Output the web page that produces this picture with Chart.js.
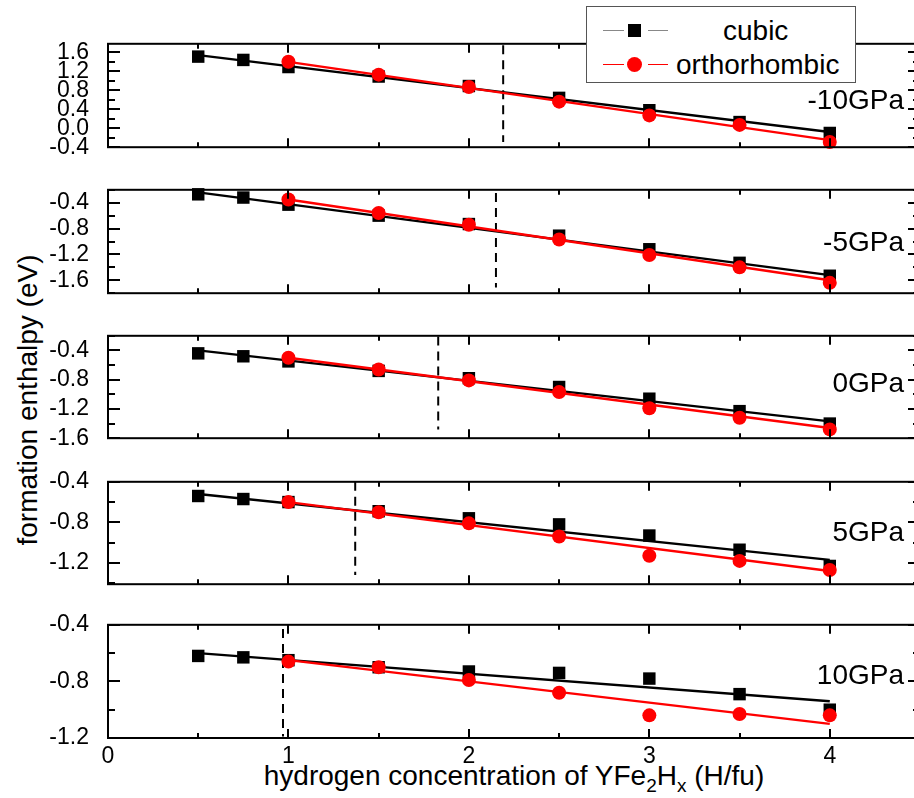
<!DOCTYPE html>
<html>
<head>
<meta charset="utf-8">
<title>Formation enthalpy of YFe2Hx</title>
<script src="https://cdn.jsdelivr.net/npm/chart.js@4.4.1/dist/chart.umd.min.js"></script>
<style>
  html, body { margin: 0; padding: 0; overflow: hidden; background: #fff; }
  body { width: 914px; height: 798px; position: relative; font-family: 'Liberation Sans', Arial, sans-serif; color: #000; }
  canvas.panel { position: absolute; left: 0; }
  .plabel { position: absolute; right: 10px; font-size: 28px; line-height: 1; transform: translateY(-50%); white-space: nowrap; }
  #ytitle { position: absolute; left: 28px; top: 400px; font-size: 28px; white-space: nowrap; transform: translate(-50%, -50%) rotate(-90deg); }
  #xtitle { position: absolute; left: 514px; top: 776px; font-size: 28px; white-space: nowrap; transform: translate(-50%, -50%); }
  #xtitle sub { font-size: 19px; vertical-align: -7px; line-height: 0; }
  #legend { position: absolute; left: 586px; top: 6px; width: 268px; height: 75px; border: 1px solid #555; background: #fff; z-index: 5; }
  #legend .seg { position: absolute; height: 1px; }
  #legend .sq { position: absolute; width: 13px; height: 13px; background: #000; }
  #legend .dot { position: absolute; width: 15px; height: 15px; border-radius: 50%; background: #f00; }
  #legend .txt { position: absolute; font-size: 28px; line-height: 1; transform: translateY(-50%); white-space: nowrap; }
</style>
</head>
<body>

<div id="ytitle">formation enthalpy (eV)</div>
<div id="xtitle">hydrogen concentration of YFe<sub>2</sub>H<sub>x</sub> (H/fu)</div>

<div id="legend">
  <div class="seg" style="left:16px; width:21px; top:23px; background:#888"></div>
  <div class="seg" style="left:61px; width:20px; top:23px; background:#888"></div>
  <div class="sq" style="left:41px; top:17px"></div>
  <div class="txt" style="left:136px; top:24px">cubic</div>
  <div class="seg" style="left:16px; width:21px; top:57px; background:#f00"></div>
  <div class="seg" style="left:61px; width:20px; top:57px; background:#f00"></div>
  <div class="dot" style="left:40px; top:50px"></div>
  <div class="txt" style="left:89px; top:58px">orthorhombic</div>
</div>

<script>
// pressure of each panel, top to bottom
const pressureLabels = ['-10GPa', '-5GPa', '0GPa', '5GPa', '10GPa'];

// hydrogen content x in YFe2Hx (H/fu)
const cubicX = [0.5, 0.75, 1, 1.5, 2, 2.5, 3, 3.5, 4];
const orthoX = [1, 1.5, 2, 2.5, 3, 3.5, 4];

// formation enthalpy (eV), one row per pressure
const cubicE = [
  [1.51, 1.44, 1.29, 1.09, 0.89, 0.64, 0.38, 0.13, -0.10],
  [-0.27, -0.32, -0.43, -0.60, -0.73, -0.91, -1.12, -1.33, -1.53],
  [-0.44, -0.48, -0.55, -0.68, -0.78, -0.90, -1.06, -1.23, -1.40],
  [-0.54, -0.57, -0.60, -0.69, -0.76, -0.82, -0.93, -1.07, -1.23],
  [-0.62, -0.63, -0.65, -0.70, -0.73, -0.74, -0.78, -0.89, -1.00]
];
const orthoE = [
  [1.40, 1.13, 0.87, 0.56, 0.27, 0.07, -0.29],
  [-0.35, -0.56, -0.74, -0.97, -1.21, -1.40, -1.64],
  [-0.50, -0.66, -0.81, -0.97, -1.19, -1.32, -1.48],
  [-0.60, -0.70, -0.81, -0.94, -1.13, -1.18, -1.27],
  [-0.66, -0.70, -0.79, -0.88, -1.04, -1.03, -1.04]
];

// linear fits, given by their end points
const cubicFitX = [0.5, 4];
const orthoFitX = [1, 4];
const cubicFit = [[1.54, -0.08], [-0.24, -1.52], [-0.40, -1.37], [-0.52, -1.17], [-0.60, -0.94]];
const orthoFit = [[1.40, -0.25], [-0.35, -1.60], [-0.50, -1.46], [-0.60, -1.28], [-0.65, -1.10]];

// cubic -> orthorhombic crossover (dashed lines)
const transitionX = [2.19, 2.15, 1.83, 1.37, 0.97];
const transitionY = [[1.75, -0.29], [-0.25, -1.71], [-0.21, -1.48], [-0.40, -1.32], [-0.43, -1.19]];

// y range of each panel
const yMin = [-0.4, -1.8, -1.6, -1.41, -1.2];
const yMax = [1.78, -0.2, -0.2, -0.4, -0.4];

Chart.defaults.font.family = "'Liberation Sans', Arial, sans-serif";
Chart.defaults.color = '#000';

const onStep = (v, step) => Math.abs(v / step - Math.round(v / step)) < 1e-6;

// every 0.2 inside the range, labelled at multiples of 0.4
function yTickValues(min, max) {
  const out = [];
  for (let k = Math.ceil(min / 0.2 - 1e-6); k <= Math.floor(max / 0.2 + 1e-6); k++) {
    out.push({ value: Math.round(k * 2) / 10 });
  }
  return out;
}

// box around each panel plus inward tick marks on all four sides
const frameTicks = {
  id: 'frameTicks',
  afterDatasetsDraw(chart) {
    const { ctx, chartArea: a, scales: { x, y } } = chart;
    ctx.save();
    ctx.strokeStyle = '#000';
    ctx.lineWidth = 2;
    ctx.strokeRect(a.left, a.top, a.right - a.left, a.bottom - a.top);
    ctx.beginPath();
    y.ticks.forEach(t => {
      if (!onStep(t.value, 0.2)) return;
      const len = onStep(t.value, 0.4) ? 12 : 7;
      const py = Math.round(y.getPixelForValue(t.value));
      ctx.moveTo(a.left, py); ctx.lineTo(a.left + len, py);
      ctx.moveTo(a.right, py); ctx.lineTo(a.right - len, py);
    });
    x.ticks.forEach(t => {
      if (!onStep(t.value, 0.5)) return;
      const len = onStep(t.value, 1) ? 9 : 5;
      const px = Math.round(x.getPixelForValue(t.value));
      ctx.moveTo(px, a.bottom); ctx.lineTo(px, a.bottom - len);
      ctx.moveTo(px, a.top); ctx.lineTo(px, a.top + len);
    });
    ctx.stroke();
    ctx.restore();
  }
};

// chart-area top/bottom of each panel on the page
const areaTop = [35, 181, 327, 473, 616];
const areaBottom = [156, 302, 447, 593, 738];

function makePanel(i) {
  const last = i === pressureLabels.length - 1;
  const pad = 16;
  const xAxisH = last ? 60 : 0;
  const top = areaTop[i] - pad;
  const height = last ? 798 - top : (areaBottom[i] - areaTop[i]) + 2 * pad;

  const canvas = document.createElement('canvas');
  canvas.className = 'panel';
  canvas.width = 930;
  canvas.height = height;
  canvas.style.top = top + 'px';
  document.body.appendChild(canvas);

  const lbl = document.createElement('div');
  lbl.className = 'plabel';
  lbl.textContent = pressureLabels[i];
  document.body.appendChild(lbl);

  new Chart(canvas, {
    type: 'scatter',
    data: {
      datasets: [
        {
          label: 'orthorhombic',
          data: orthoX.map((x, k) => ({ x, y: orthoE[i][k] })),
          pointStyle: 'circle', pointRadius: 7, borderWidth: 0,
          backgroundColor: '#ff0000', borderColor: '#ff0000',
          clip: false, order: 0
        },
        {
          data: orthoFitX.map((x, k) => ({ x, y: orthoFit[i][k] })),
          showLine: true, pointRadius: 0, borderColor: '#ff0000', borderWidth: 2.4, order: 1
        },
        {
          label: 'cubic',
          data: cubicX.map((x, k) => ({ x, y: cubicE[i][k] })),
          pointStyle: 'rect', pointRadius: 8.8, borderWidth: 0,
          backgroundColor: '#000', borderColor: '#000',
          clip: false, order: 2
        },
        {
          data: cubicFitX.map((x, k) => ({ x, y: cubicFit[i][k] })),
          showLine: true, pointRadius: 0, borderColor: '#000', borderWidth: 2.4, order: 3
        },
        {
          data: transitionY[i].map(y => ({ x: transitionX[i], y })),
          showLine: true, pointRadius: 0, borderColor: '#000', borderWidth: 2,
          borderDash: [9, 6], order: 4
        }
      ]
    },
    options: {
      responsive: false,
      animation: false,
      events: [],
      layout: { padding: { top: pad, bottom: last ? 0 : pad, left: 0, right: 10 } },
      plugins: { legend: { display: false }, tooltip: { enabled: false } },
      scales: {
        x: {
          type: 'linear', min: 0, max: 4.5,
          grid: { display: false }, border: { display: false },
          ticks: {
            display: last, stepSize: 0.5, autoSkip: false, padding: -3, maxRotation: 0,
            font: { size: 23 },
            callback: v => onStep(v, 1) ? String(Math.round(v)) : ''
          },
          afterFit: s => { s.height = xAxisH; }
        },
        y: {
          min: yMin[i], max: yMax[i],
          grid: { display: false }, border: { display: false },
          afterBuildTicks: s => { s.ticks = yTickValues(yMin[i], yMax[i]); },
          ticks: {
            autoSkip: false, padding: 11,
            font: { size: 23 },
            callback: v => {
              if (!onStep(v, 0.4)) return '';
              return Math.abs(v) < 1e-9 ? '0.0' : v.toFixed(1);
            }
          },
          afterFit: s => { s.width = 108; }
        }
      }
    },
    plugins: [frameTicks]
  });
}

// panel labels sit at the right edge, vertical centre given in page px
const labelY = [100, 242, 383, 532, 675];
pressureLabels.forEach((p, i) => makePanel(i));
document.querySelectorAll('.plabel').forEach((el, i) => { el.style.top = labelY[i] + 'px'; });
</script>
</body>
</html>
